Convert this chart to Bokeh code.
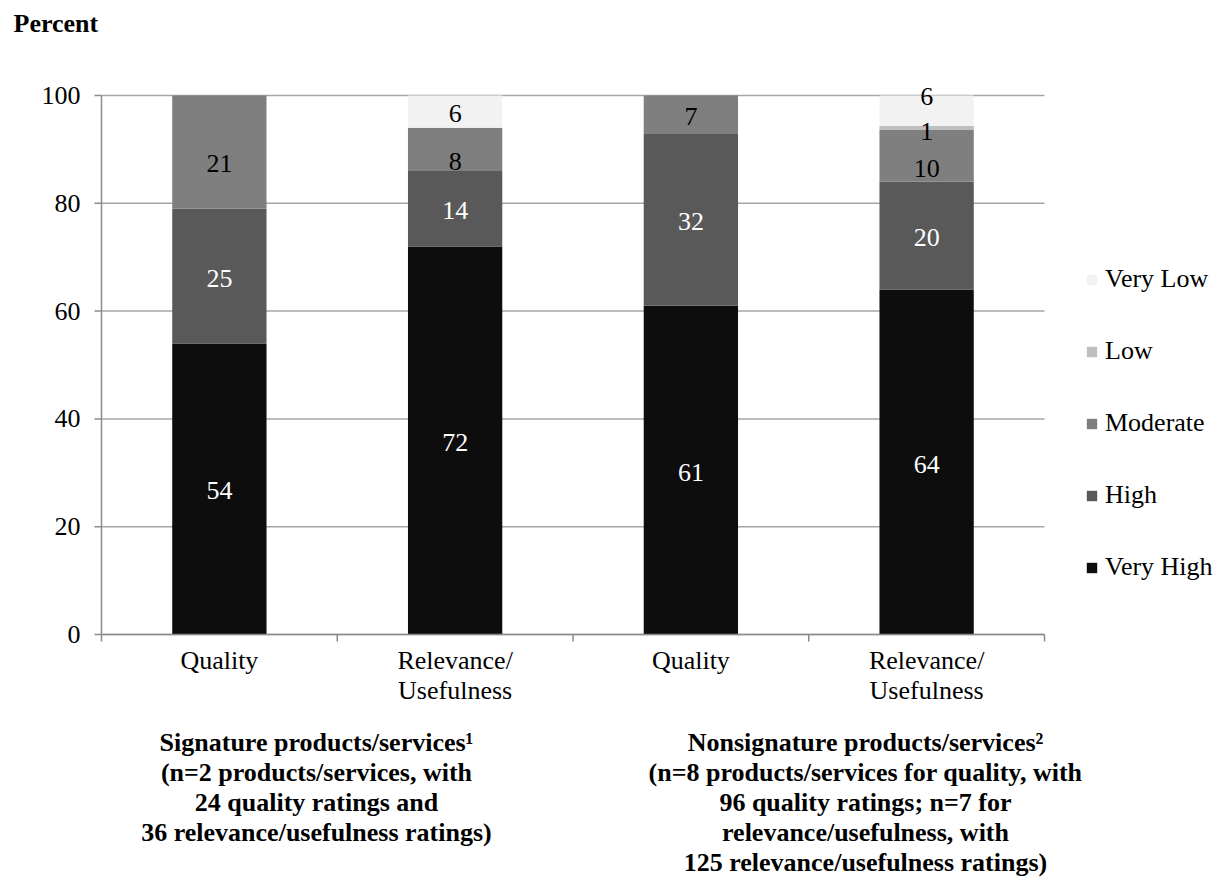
import math
from bokeh.plotting import figure
from bokeh.models import (ColumnDataSource, FixedTicker, Legend, LegendItem,
                          LabelSet, Label, LinearAxis, Range1d)
from bokeh.embed import file_html
from bokeh.resources import INLINE

# ---------------- data ----------------
categories = ["Quality", "Relevance/\nUsefulness", "Quality", "Relevance/\nUsefulness"]
series = ["Very High", "High", "Moderate", "Low", "Very Low"]
very_high = [54, 72, 61, 64]
high = [25, 14, 32, 20]
moderate = [21, 8, 7, 9.6]
low = [0, 0, 0, 0.8]
very_low = [0, 6, 0, 5.6]
y_ticks = [0, 20, 40, 60, 80, 100]
y_title = "Percent"
group_labels = [
    "Signature products/services\u00b9\n(n=2 products/services, with\n"
    "24 quality ratings and\n36 relevance/usefulness ratings)",
    "Nonsignature products/services\u00b2\n(n=8 products/services for quality, with\n"
    "96 quality ratings; n=7 for\nrelevance/usefulness, with\n"
    "125 relevance/usefulness ratings)",
]

# ---------------- styles ----------------
colors = ["#0d0d0d", "#595959", "#7f7f7f", "#bfbfbf", "#f2f2f2"]
label_colors = ["#ffffff", "#ffffff", "#000000", "#000000", "#000000"]
FONT = "Liberation Serif"
FS = "26px"
AXIS_COLOR = "#8c8c8c"
GRID_COLOR = "#a6a6a6"
# label pixel nudges (series index, bar index) -> px
nudges = {(2, 0): -9, (2, 1): -10, (2, 3): -11, (4, 3): 16, (3, 3): -2}

values = [very_high, high, moderate, low, very_low]
n = len(categories)
xs = [i + 0.5 for i in range(n)]

data = {"x": xs}
for s, v in zip(series, values):
    data[s] = v
src = ColumnDataSource(data)

W, H = 1225, 886
# chart area on the page: x 101..1044 (4 categories), y(100)=95, y(0)=634
AX_L, AX_R, AX_T, AX_B = 101, 1044, 95, 634
FRAME_B = 645                      # frame reaches a little below the zero line
PX_PER_CAT = (AX_R - AX_L) / n
PX_PER_UNIT = (AX_B - AX_T) / 100.0
# the frame covers the whole canvas above the category labels so nothing is clipped
X0 = -AX_L / PX_PER_CAT
X1 = (W - AX_L) / PX_PER_CAT
Y0 = -(FRAME_B - AX_B) / PX_PER_UNIT
Y1 = AX_B / PX_PER_UNIT

def px_x(px):
    return (px - AX_L) / PX_PER_CAT

def px_y(py):
    return (AX_B - py) / PX_PER_UNIT

p = figure(width=W, height=H, x_range=Range1d(X0, X1), y_range=Range1d(Y0, Y1),
           output_backend="svg", toolbar_location=None,
           min_border_left=0, min_border_right=0, min_border_top=0,
           min_border_bottom=H - FRAME_B)
p.outline_line_color = None
p.background_fill_color = "white"
p.yaxis.visible = False
p.xgrid.grid_line_color = None
p.ygrid.grid_line_color = None

# horizontal gridlines (only across the category area)
p.segment(x0=[0] * len(y_ticks), y0=y_ticks, x1=[n] * len(y_ticks), y1=y_ticks,
          line_color=GRID_COLOR, line_width=1.5)

renderers = p.vbar_stack(series, x="x", width=0.4, color=colors, source=src,
                         line_color=None)

# value axis: line, ticks and labels
p.segment(x0=[0], y0=[y_ticks[0]], x1=[0], y1=[y_ticks[-1]],
          line_color=AXIS_COLOR, line_width=1.5)
p.ray(x=[0] * len(y_ticks), y=y_ticks, length=7, length_units="screen",
      angle=math.pi, line_color=AXIS_COLOR, line_width=1.5)
ysrc = ColumnDataSource(dict(x=[0] * len(y_ticks), y=y_ticks,
                             t=[str(t) for t in y_ticks]))
p.add_layout(LabelSet(x="x", y="y", text="t", source=ysrc, x_offset=-21,
                      text_align="right", text_baseline="middle",
                      text_font=FONT, text_font_size=FS, text_color="#000000"))
# category axis line and boundary ticks
p.segment(x0=[0], y0=[y_ticks[0]], x1=[n], y1=[y_ticks[0]],
          line_color=AXIS_COLOR, line_width=1.5)
bounds = list(range(n + 1))
p.ray(x=bounds, y=[y_ticks[0]] * len(bounds), length=7, length_units="screen",
      angle=-math.pi / 2, line_color=AXIS_COLOR, line_width=1.5)

# segment labels
lx, ly, lt, lc, lo = [], [], [], [], []
for si, v in enumerate(values):
    for bi, val in enumerate(v):
        if val <= 0:
            continue
        base = sum(values[k][bi] for k in range(si))
        lx.append(xs[bi])
        ly.append(base + val / 2.0)
        lt.append(str(int(round(val))))
        lc.append(label_colors[si])
        lo.append(-2 + nudges.get((si, bi), 0))
lsrc = ColumnDataSource(dict(x=lx, y=ly, t=lt, c=lc, o=lo))
p.add_layout(LabelSet(x="x", y="y", text="t", source=lsrc, text_color="c",
                      y_offset="o", text_align="center", text_baseline="middle",
                      text_font=FONT, text_font_size=FS))

# "Percent"
p.add_layout(Label(x=px_x(13), y=px_y(23), text=y_title, text_font=FONT,
                   text_font_size=FS, text_font_style="bold",
                   text_align="left", text_baseline="middle",
                   text_color="#000000"))

# x axis (category names)
xa = p.xaxis[0]
xa.ticker = FixedTicker(ticks=xs, minor_ticks=[])
xa.major_label_overrides = {x: c for x, c in zip(xs, categories)}
xa.major_tick_line_color = None
xa.minor_tick_line_color = None
xa.major_tick_out = 0
xa.major_tick_in = 0
xa.axis_line_color = None
xa.major_label_text_font = FONT
xa.major_label_text_font_size = FS
xa.major_label_text_color = "#000000"
xa.major_label_text_line_height = 1.04
xa.major_label_standoff = 0

# group labels as a second, line-less axis below
gx = [px_x(316), px_x(865)]
ga = LinearAxis(ticker=FixedTicker(ticks=gx, minor_ticks=[]),
                major_label_overrides={x: t for x, t in zip(gx, group_labels)},
                axis_line_color=None, major_tick_line_color=None,
                minor_tick_line_color=None, major_tick_out=0, major_tick_in=0,
                major_label_standoff=20, major_label_text_font=FONT,
                major_label_text_font_size=FS, major_label_text_font_style="bold",
                major_label_text_color="#000000",
                major_label_text_line_height=1.04)
p.add_layout(ga, "below")

# legend inside the frame, right of the bars
items = [LegendItem(label=s, renderers=[r]) for s, r in zip(series, renderers)][::-1]
legend = Legend(items=items, location=(1085, 52 + FRAME_B - AX_B),
                orientation="vertical",
                padding=0, margin=0, border_line_color=None,
                background_fill_alpha=0, spacing=42, label_height=26,
                glyph_height=13, glyph_width=13, label_standoff=7,
                label_text_font=FONT, label_text_font_size=FS,
                label_text_color="#000000")
p.add_layout(legend)

open("out.html", "w").write(file_html(p, INLINE))
